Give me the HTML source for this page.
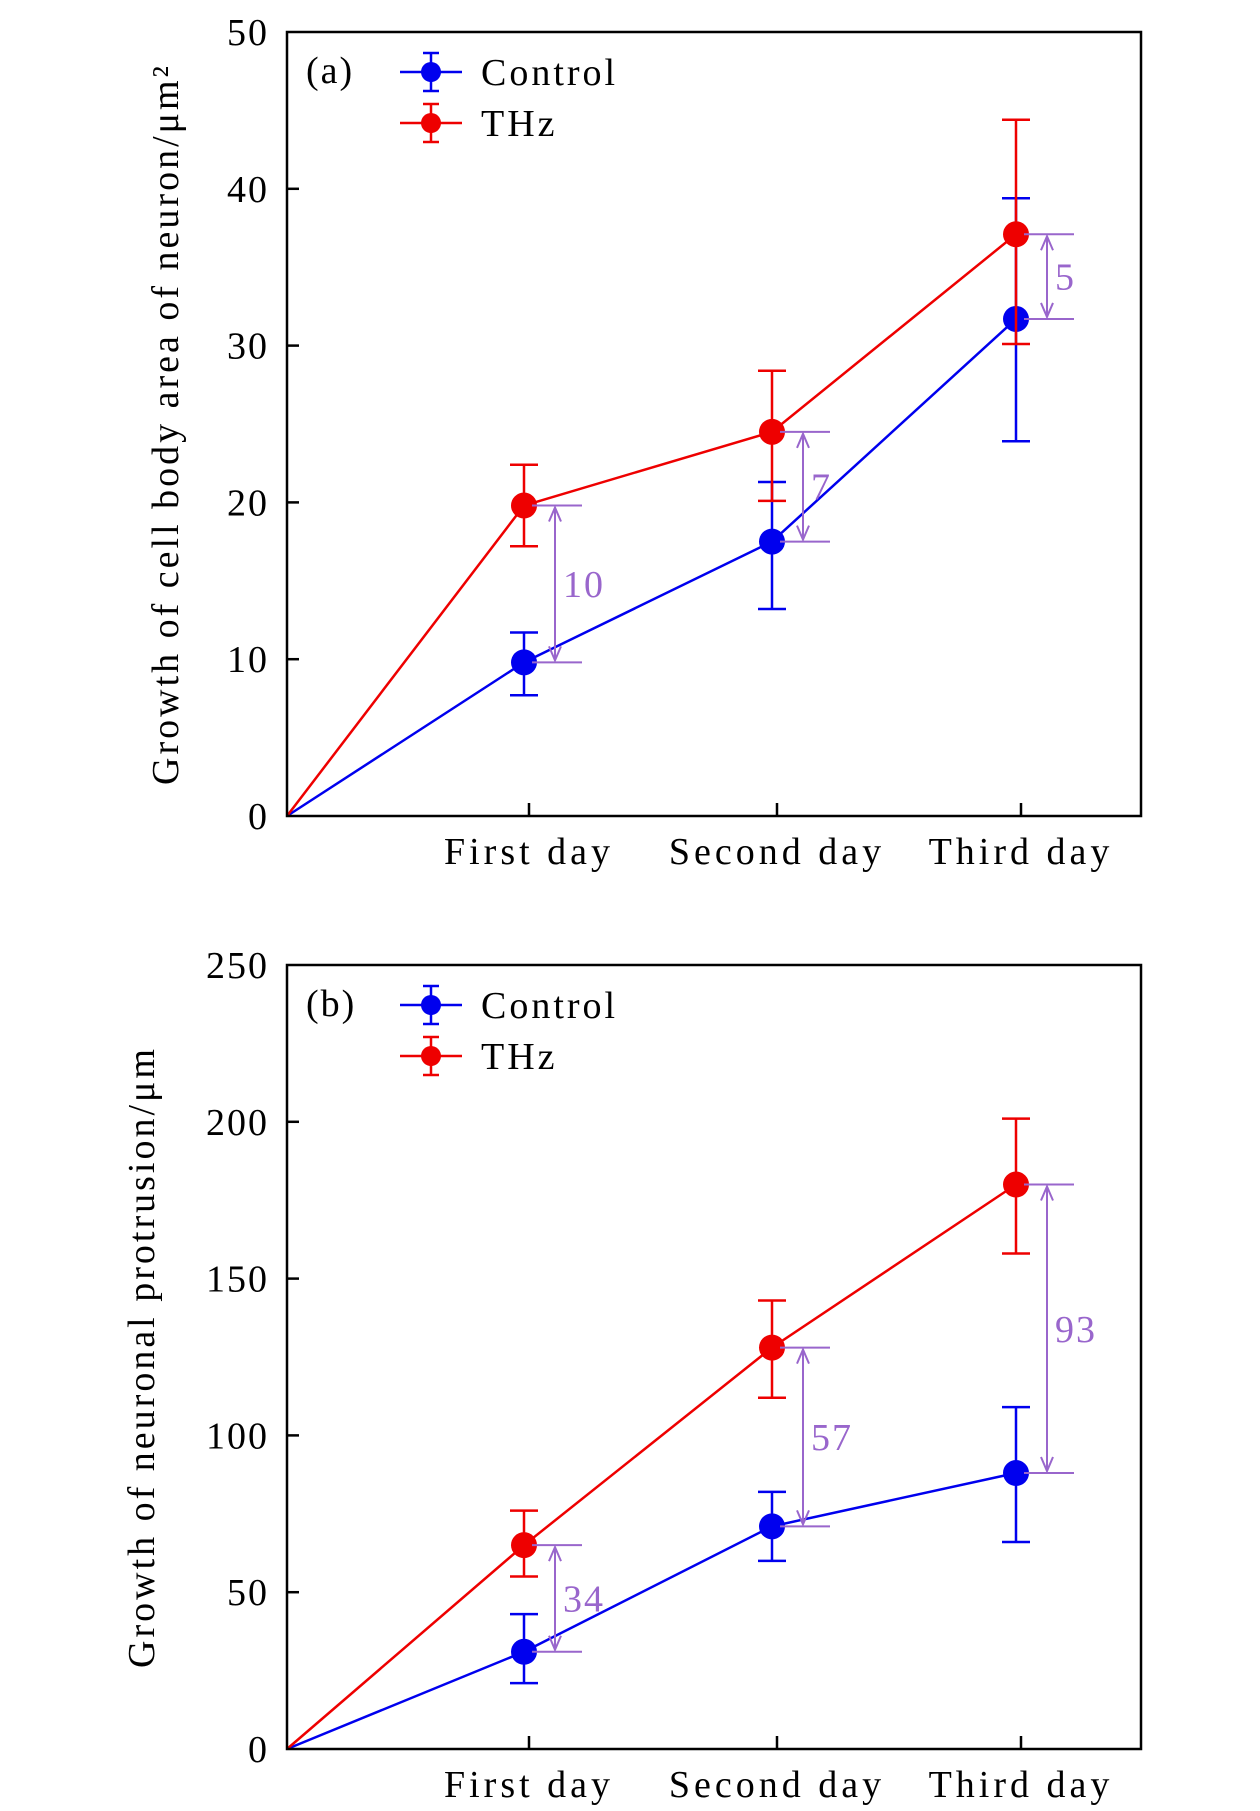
<!DOCTYPE html>
<html><head><meta charset="utf-8"><style>
body{margin:0;background:#fff}
svg{display:block;font-family:"Liberation Serif",serif}
</style></head><body>
<svg id="chart" width="1260" height="1811" viewBox="0 0 1260 1811"></svg>
<script>
const categories=["First day","Second day","Third day"];
const aControl=[9.8,17.5,31.7], aControlLo=[7.7,13.2,23.9], aControlHi=[11.7,21.3,39.4];
const aTHz=[19.8,24.5,37.1], aTHzLo=[17.2,20.1,30.1], aTHzHi=[22.4,28.4,44.4];
const aTicks=[0,10,20,30,40,50];
const aDiff=["10","7","5"];
const bControl=[31,71,88], bControlLo=[21,60,66], bControlHi=[43,82,109];
const bTHz=[65,128,180], bTHzLo=[55,112,158], bTHzHi=[76,143,201];
const bTicks=[0,50,100,150,200,250];
const bDiff=["34","57","93"];

const NS="http://www.w3.org/2000/svg";
const svg=document.getElementById('chart');
function el(tag,attrs,parent,text){const e=document.createElementNS(NS,tag);for(const k in attrs)e.setAttribute(k,attrs[k]);if(text!==undefined)e.textContent=text;(parent||svg).appendChild(e);return e;}

function panel(cfg){
  const g=el('g',{});
  
  
  const L=287,R=1141,T=cfg.top,B=cfg.bottom,ymax=cfg.ticks[cfg.ticks.length-1];
  const y=v=>B-(v/ymax)*(B-T);
  const xt=i=>[529,777,1021][i];
  const xp=i=>i<0?L:xt(i)-5;
  cfg.ticks.forEach(t=>{
    if(t>0&&t<ymax){const tk=el('line',{x1:L,x2:L+12,y1:y(t),y2:y(t),stroke:'#000','stroke-width':2.5},g);}
    const lb=el('text',{x:L-18,y:y(t)+13,'text-anchor':'end','font-size':38,'letter-spacing':2},g,String(t));
    
    
  });
  categories.forEach((c,i)=>{
    el('line',{x1:xt(i),x2:xt(i),y1:B,y2:B-13,stroke:'#000','stroke-width':2.5},g);
    const lb=el('text',{x:xt(i),y:B+48,'text-anchor':'middle','font-size':38,'letter-spacing':4},g,c);
    
    
  });
  const yt=el('text',{x:0,y:0,'text-anchor':'middle','font-size':38,'letter-spacing':3,transform:`translate(${cfg.titleX},${(T+B)/2}) rotate(-90)`},g,cfg.title);
  
  
  const pl=el('text',{x:306,y:T+51,'font-size':38,'letter-spacing':2},g,cfg.label);
  
  
  const series=[[cfg.ctl,cfg.ctlLo,cfg.ctlHi,'#0000ee','control'],[cfg.thz,cfg.thzLo,cfg.thzHi,'#ee0000','thz']];
  series.forEach(([v,lo,hi,col,nm])=>{
    const pts=[[L,B]].concat(v.map((d,i)=>[xp(i),y(d)]));
    const ln=el('polyline',{points:pts.map(p=>p.join(',')).join(' '),fill:'none',stroke:col,'stroke-width':2.5},g);
    
    
    v.forEach((d,i)=>{
      const x=xp(i);
      el('line',{x1:x,x2:x,y1:y(lo[i]),y2:y(hi[i]),stroke:col,'stroke-width':2.5},g);
      el('line',{x1:x-14,x2:x+14,y1:y(lo[i]),y2:y(lo[i]),stroke:col,'stroke-width':2.5},g);
      el('line',{x1:x-14,x2:x+14,y1:y(hi[i]),y2:y(hi[i]),stroke:col,'stroke-width':2.5},g);
      const c=el('circle',{cx:x,cy:y(d),r:13,fill:col},g);
      
      
    });
  });
  const pc='#9966cc';
  cfg.ctl.forEach((d,i)=>{
    const x=xp(i), ax=x+31, y1=y(cfg.thz[i]), y2=y(d);
    el('line',{x1:x+8,x2:x+58,y1:y1,y2:y1,stroke:pc,'stroke-width':2},g);
    el('line',{x1:x+8,x2:x+58,y1:y2,y2:y2,stroke:pc,'stroke-width':2},g);
    el('line',{x1:ax,x2:ax,y1:y1+2,y2:y2-2,stroke:pc,'stroke-width':2},g);
    el('polyline',{points:`${ax-6},${y1+16} ${ax},${y1+2} ${ax+6},${y1+16}`,fill:'none',stroke:pc,'stroke-width':2},g);
    el('polyline',{points:`${ax-6},${y2-16} ${ax},${y2-2} ${ax+6},${y2-16}`,fill:'none',stroke:pc,'stroke-width':2},g);
    const t=el('text',{x:ax+8,y:(y1+y2)/2+13,'font-size':38,'letter-spacing':2,fill:pc},g,cfg.diff[i]);
    
    
  });
  [['Control','#0000ee',T+40],['THz','#ee0000',T+91]].forEach(([n,col,ly])=>{
    const lg=el('g',{},g);
    
    
    el('line',{x1:400,x2:462,y1:ly,y2:ly,stroke:col,'stroke-width':2.5},lg);
    el('line',{x1:431,x2:431,y1:ly-19,y2:ly+19,stroke:col,'stroke-width':2.5},lg);
    el('line',{x1:423,x2:439,y1:ly-19,y2:ly-19,stroke:col,'stroke-width':2.5},lg);
    el('line',{x1:423,x2:439,y1:ly+19,y2:ly+19,stroke:col,'stroke-width':2.5},lg);
    el('circle',{cx:431,cy:ly,r:10,fill:col},lg);
    el('text',{x:481,y:ly+13,'font-size':38,'letter-spacing':3},lg,n);
  });
  const fr=el('rect',{x:L,y:T,width:R-L,height:B-T,fill:'none',stroke:'#000','stroke-width':2.5},g);
  
  
}
panel({name:'panel-a',top:32,bottom:816,ticks:aTicks,ctl:aControl,ctlLo:aControlLo,ctlHi:aControlHi,thz:aTHz,thzLo:aTHzLo,thzHi:aTHzHi,diff:aDiff,label:'(a)',title:'Growth of cell body area of neuron/μm²',titleX:178});
panel({name:'panel-b',top:965,bottom:1749,ticks:bTicks,ctl:bControl,ctlLo:bControlLo,ctlHi:bControlHi,thz:bTHz,thzLo:bTHzLo,thzHi:bTHzHi,diff:bDiff,label:'(b)',title:'Growth of neuronal protrusion/μm',titleX:154});
</script>
</body></html>
